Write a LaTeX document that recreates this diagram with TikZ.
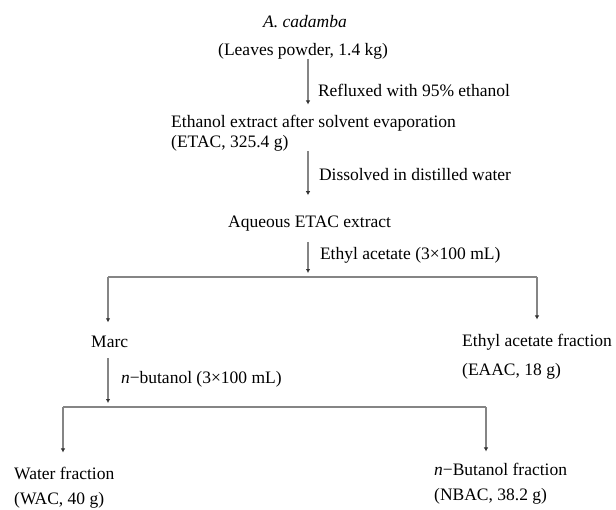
\documentclass[tikz,border=0pt]{standalone}
\usepackage{fontspec}
\setmainfont{Liberation Serif}
\usetikzlibrary{positioning}
\usetikzlibrary{arrows.meta}

\begin{document}
\begin{tikzpicture}[x=1pt,y=-1pt,every node/.style={inner sep=0pt,font=\fontsize{17.5}{21}\selectfont},
  flow/.style={draw=black!48,line width=2pt,-{Latex[length=4pt,width=4.5pt,color=black!80]}},
  link/.style={draw=black!48,line width=2pt}]
  \useasboundingbox (0,0) rectangle (616,509);

  \node[anchor=base] (plant) at (305,27) {\textit{A. cadamba}};
  \node[anchor=base west] (powder) at (218,55) {(Leaves powder, 1.4 kg)};
  \node[anchor=base west,align=left] (etac) at (171,147) {Ethanol extract after solvent evaporation\\[-1pt](ETAC, 325.4 g)};
  \node[anchor=base west] (aqueous) at (228,227) {Aqueous ETAC extract};
  \node[anchor=base west] (marc) at (91,347) {Marc};
  \node[anchor=base west,align=left] (eaac) at (462,375) {Ethyl acetate fraction\\[8pt](EAAC, 18 g)};
  \node[anchor=base west,align=left] (wac) at (14,504) {Water fraction\\[4pt](WAC, 40 g)};
  \node[anchor=base west,align=left] (nbac) at (434,500) {\textit{n}−Butanol fraction\\[4pt](NBAC, 38.2 g)};

  \coordinate (c1) at (308,0);
  \coordinate (split1) at (308,277);
  \coordinate (left1) at (108,277);
  \coordinate (right1) at (537,277);
  \coordinate (split2) at (108,407);
  \coordinate (left2) at (63,407);
  \coordinate (right2) at (486,407);

  \draw[flow,shorten >=10pt] (powder.south -| c1) -- node[anchor=west,xshift=9pt,yshift=-3.5pt] (reflux) {Refluxed with 95\% ethanol} (etac.north -| c1);
  \draw[flow,shorten >=20pt] (etac.south -| c1) -- node[anchor=west,xshift=10pt,yshift=9pt] (dissolve) {Dissolved in distilled water} (aqueous.north -| c1);
  \draw[flow,shorten <=11pt,shorten >=4pt] (aqueous.south -| c1) -- node[anchor=west,xshift=11pt,yshift=-1pt] (ethyl) {Ethyl acetate (3×100 mL)} (split1);
  \draw[link] (left1) -- (right1);
  \draw[flow,shorten >=13pt] (left1) -- (marc.north -| left1);
  \draw[flow,shorten >=14pt] (right1) -- (eaac.north -| right1);
  \draw[flow,shorten <=11pt,shorten >=4pt] (marc.south -| split2) -- node[anchor=west,xshift=12pt,yshift=-2.5pt] (butanol) {\textit{n}−butanol (3×100 mL)} (split2);
  \draw[link] (left2) -- (right2);
  \draw[flow,shorten >=14pt] (left2) -- (wac.north -| left2);
  \draw[flow,shorten >=11pt] (right2) -- (nbac.north -| right2);
\end{tikzpicture}
\end{document}
